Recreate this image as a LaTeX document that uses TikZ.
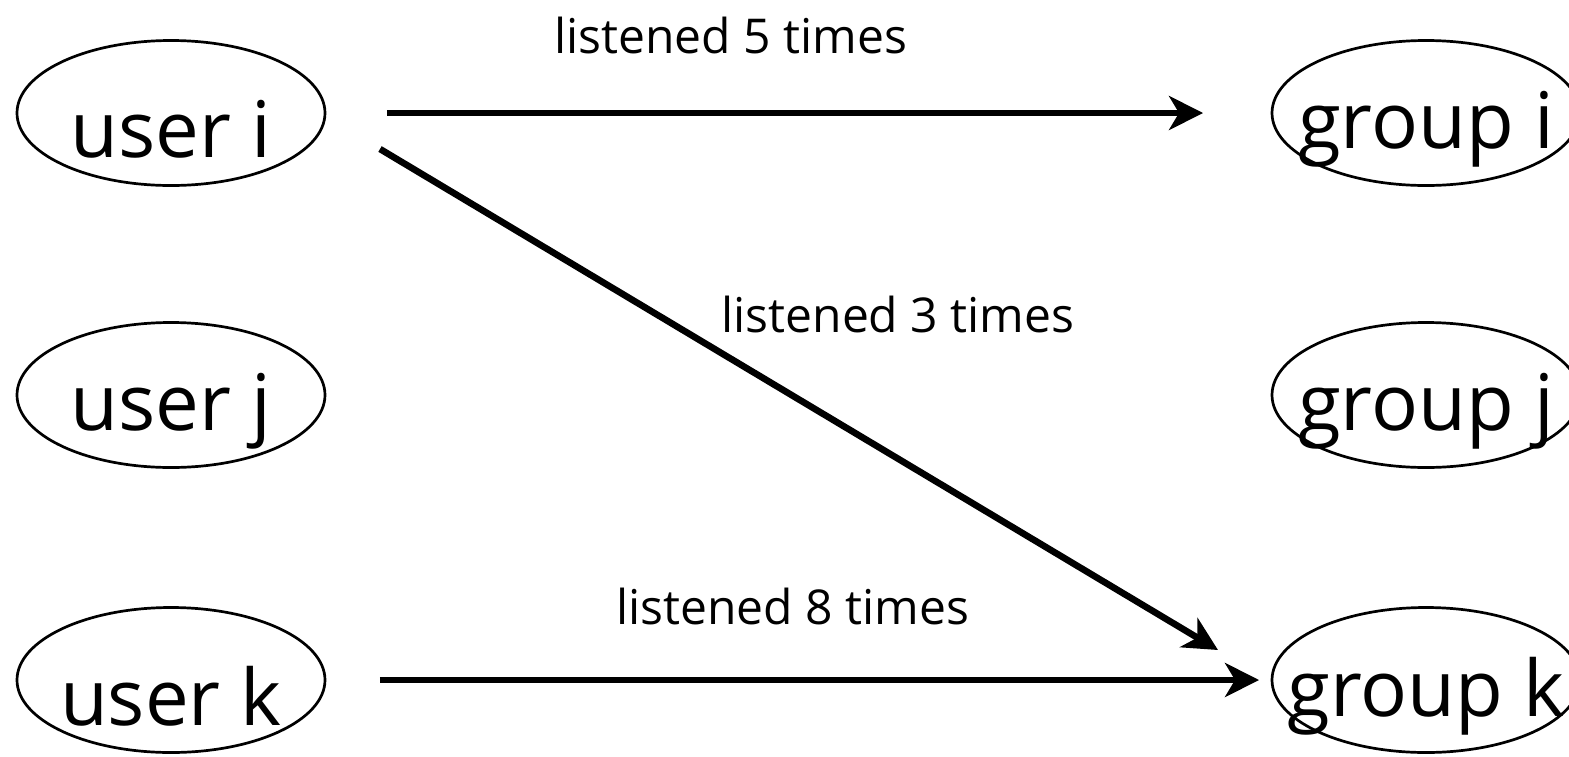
\documentclass[tikz,border=0pt]{standalone}
\usepackage{fontspec}
\setmainfont{Open Sans}
\usetikzlibrary{shapes.geometric, arrows.meta}

\tikzset{
	blob/.style={ellipse, draw, line width=1.35pt, minimum width=154pt, minimum height=72.5pt, inner sep=0pt},
	blobtext/.style={anchor=base, yshift=-8.25pt, font=\fontsize{39}{47}\selectfont},
	listen/.style={line width=3.3pt, -{Stealth[length=17pt, width=17pt, inset=5pt]}},
	timeslabel/.style={anchor=base, inner sep=0pt, font=\fontsize{24}{29}\selectfont}
}

\begin{document}
\begin{tikzpicture}[x=0.5pt, y=-0.5pt]
		\useasboundingbox (0,0) rectangle (1569,756);
		\foreach \who/\y in {i/113, j/395, k/680}
		{
			\node[blob, label={[blobtext]center:user \who}] (u\who) at (171,\y) {};
			\node[blob, label={[blobtext]center:group \who}] (g\who) at (1426,\y) {};
		}
		\draw[listen, shorten <=30.3pt, shorten >=33.8pt] (ui.east) -- node[timeslabel, pos=0.428, yshift=30pt] (five) {listened 5 times} (gi.west);
		\draw[listen] ([shift={(209,36)}]ui.center) -- node[timeslabel, pos=0.618, yshift=63pt] (three) {listened 3 times} ([shift={(-208,-30)}]gk.center);
		\draw[listen, shorten <=26.8pt, shorten >=5.8pt] (uk.east) -- node[timeslabel, pos=0.494, yshift=28pt] (eight) {listened 8 times} (gk.west);
	\end{tikzpicture}
\end{document}
